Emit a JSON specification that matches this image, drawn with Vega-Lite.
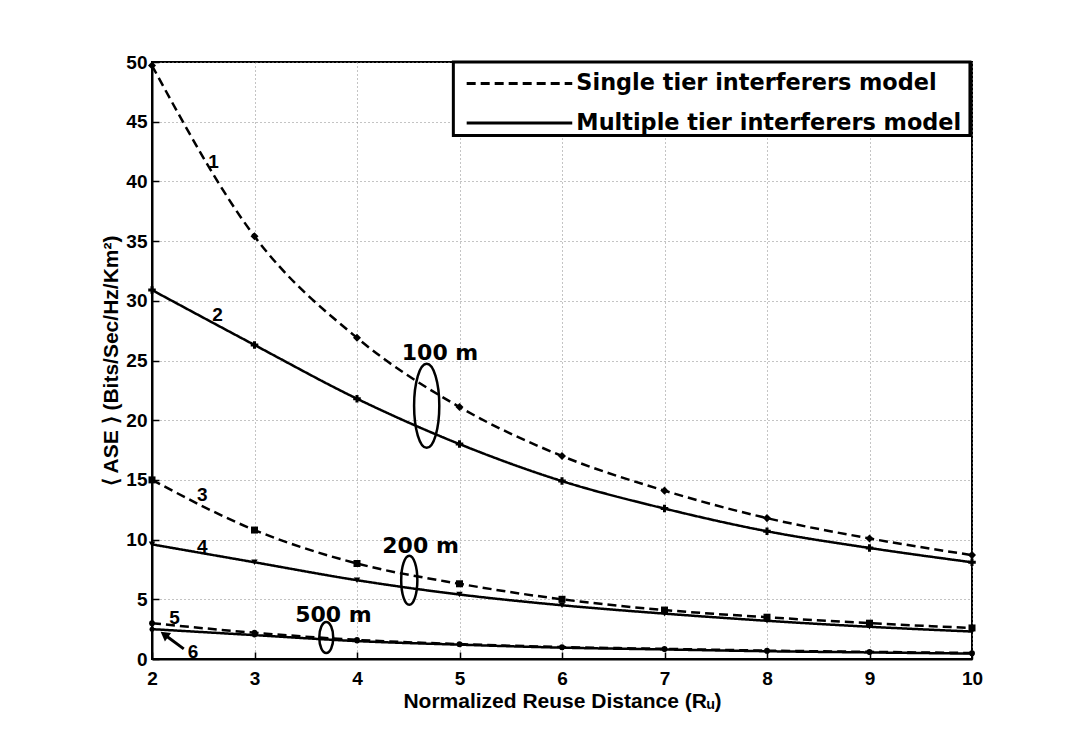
{
  "$schema": "https://vega.github.io/schema/vega-lite/v6.json",
  "autosize": "none",
  "width": 820,
  "height": 597,
  "padding": {"left": 152, "top": 62, "right": 101, "bottom": 88},
  "background": "white",
  "config": {
    "font": "Liberation Sans",
    "view": {"stroke": "black", "strokeWidth": 2},
    "axis": {
      "labelFont": "Liberation Sans", "labelFontWeight": "bold", "labelFontSize": 19, "labelColor": "black", "labelFlush": false,
      "titleFont": "Liberation Sans", "titleFontWeight": "bold", "titleFontSize": 21, "titleColor": "black",
      "domainColor": "black", "domainWidth": 2, "tickColor": "black", "tickWidth": 1.5, "tickSize": -7,
      "gridColor": "#888", "gridDash": [1, 3], "gridWidth": 1, "gridOpacity": 1
    }
  },
  "datasets": {
    "curves": [
      {"series": "1", "model": "Single tier interferers model", "x": 2, "y": 49.7},
      {"series": "1", "model": "Single tier interferers model", "x": 3, "y": 35.4},
      {"series": "1", "model": "Single tier interferers model", "x": 4, "y": 26.9},
      {"series": "1", "model": "Single tier interferers model", "x": 5, "y": 21.1},
      {"series": "1", "model": "Single tier interferers model", "x": 6, "y": 17.0},
      {"series": "1", "model": "Single tier interferers model", "x": 7, "y": 14.1},
      {"series": "1", "model": "Single tier interferers model", "x": 8, "y": 11.8},
      {"series": "1", "model": "Single tier interferers model", "x": 9, "y": 10.1},
      {"series": "1", "model": "Single tier interferers model", "x": 10, "y": 8.7},
      {"series": "2", "model": "Multiple tier interferers model", "x": 2, "y": 30.9},
      {"series": "2", "model": "Multiple tier interferers model", "x": 3, "y": 26.3},
      {"series": "2", "model": "Multiple tier interferers model", "x": 4, "y": 21.8},
      {"series": "2", "model": "Multiple tier interferers model", "x": 5, "y": 18.0},
      {"series": "2", "model": "Multiple tier interferers model", "x": 6, "y": 14.9},
      {"series": "2", "model": "Multiple tier interferers model", "x": 7, "y": 12.6},
      {"series": "2", "model": "Multiple tier interferers model", "x": 8, "y": 10.7},
      {"series": "2", "model": "Multiple tier interferers model", "x": 9, "y": 9.3},
      {"series": "2", "model": "Multiple tier interferers model", "x": 10, "y": 8.1},
      {"series": "3", "model": "Single tier interferers model", "x": 2, "y": 15.0},
      {"series": "3", "model": "Single tier interferers model", "x": 3, "y": 10.8},
      {"series": "3", "model": "Single tier interferers model", "x": 4, "y": 8.0},
      {"series": "3", "model": "Single tier interferers model", "x": 5, "y": 6.3},
      {"series": "3", "model": "Single tier interferers model", "x": 6, "y": 5.0},
      {"series": "3", "model": "Single tier interferers model", "x": 7, "y": 4.1},
      {"series": "3", "model": "Single tier interferers model", "x": 8, "y": 3.5},
      {"series": "3", "model": "Single tier interferers model", "x": 9, "y": 3.0},
      {"series": "3", "model": "Single tier interferers model", "x": 10, "y": 2.6},
      {"series": "4", "model": "Multiple tier interferers model", "x": 2, "y": 9.6},
      {"series": "4", "model": "Multiple tier interferers model", "x": 3, "y": 8.1},
      {"series": "4", "model": "Multiple tier interferers model", "x": 4, "y": 6.6},
      {"series": "4", "model": "Multiple tier interferers model", "x": 5, "y": 5.4},
      {"series": "4", "model": "Multiple tier interferers model", "x": 6, "y": 4.5},
      {"series": "4", "model": "Multiple tier interferers model", "x": 7, "y": 3.8},
      {"series": "4", "model": "Multiple tier interferers model", "x": 8, "y": 3.2},
      {"series": "4", "model": "Multiple tier interferers model", "x": 9, "y": 2.7},
      {"series": "4", "model": "Multiple tier interferers model", "x": 10, "y": 2.3},
      {"series": "5", "model": "Single tier interferers model", "x": 2, "y": 3.0},
      {"series": "5", "model": "Single tier interferers model", "x": 3, "y": 2.2},
      {"series": "5", "model": "Single tier interferers model", "x": 4, "y": 1.6},
      {"series": "5", "model": "Single tier interferers model", "x": 5, "y": 1.25},
      {"series": "5", "model": "Single tier interferers model", "x": 6, "y": 1.0},
      {"series": "5", "model": "Single tier interferers model", "x": 7, "y": 0.85},
      {"series": "5", "model": "Single tier interferers model", "x": 8, "y": 0.7},
      {"series": "5", "model": "Single tier interferers model", "x": 9, "y": 0.6},
      {"series": "5", "model": "Single tier interferers model", "x": 10, "y": 0.5},
      {"series": "6", "model": "Multiple tier interferers model", "x": 2, "y": 2.5},
      {"series": "6", "model": "Multiple tier interferers model", "x": 3, "y": 2.0},
      {"series": "6", "model": "Multiple tier interferers model", "x": 4, "y": 1.5},
      {"series": "6", "model": "Multiple tier interferers model", "x": 5, "y": 1.2},
      {"series": "6", "model": "Multiple tier interferers model", "x": 6, "y": 0.95},
      {"series": "6", "model": "Multiple tier interferers model", "x": 7, "y": 0.8},
      {"series": "6", "model": "Multiple tier interferers model", "x": 8, "y": 0.65},
      {"series": "6", "model": "Multiple tier interferers model", "x": 9, "y": 0.55},
      {"series": "6", "model": "Multiple tier interferers model", "x": 10, "y": 0.45}
    ],
    "nums": [
      {"text": "1", "x": 2.6, "y": 41.6},
      {"text": "2", "x": 2.64, "y": 28.8},
      {"text": "3", "x": 2.49, "y": 13.7},
      {"text": "4", "x": 2.49, "y": 9.4},
      {"text": "5", "x": 2.22, "y": 3.4},
      {"text": "6", "x": 2.4, "y": 0.6}
    ],
    "rings": [
      {"ring": "100 m", "cx": 4.68, "cy": 21.2, "lx": 4.81, "ly": 25.6},
      {"ring": "200 m", "cx": 4.51, "cy": 6.6, "lx": 4.62, "ly": 9.5},
      {"ring": "500 m", "cx": 3.70, "cy": 1.8, "lx": 3.77, "ly": 3.7}
    ],
    "arrow": [
      {"x": 2.31, "y": 0.85, "x2": 2.12, "y2": 2.05}
    ],
    "legendbox": [
      {"x": 4.94, "x2": 9.98, "y": 50, "y2": 43.85}
    ],
    "legend": [
      {"model": "Single tier interferers model", "x": 5.07, "x2": 6.1, "tx": 6.14, "y": 48.2},
      {"model": "Multiple tier interferers model", "x": 5.07, "x2": 6.1, "tx": 6.14, "y": 44.9}
    ]
  },
  "layer": [
    {
      "data": {"name": "curves"},
      "mark": {"type": "line", "color": "black", "strokeWidth": 2.5, "interpolate": "monotone"},
      "encoding": {
        "x": {"field": "x", "type": "quantitative", "scale": {"domain": [2, 10], "nice": false},
              "axis": {"values": [2, 3, 4, 5, 6, 7, 8, 9, 10], "format": "d", "title": "Normalized Reuse Distance (Rᵤ)", "labelPadding": 17, "titlePadding": 2}},
        "y": {"field": "y", "type": "quantitative", "scale": {"domain": [0, 50], "nice": false},
              "axis": {"values": [0, 5, 10, 15, 20, 25, 30, 35, 40, 45, 50], "format": "d", "title": "⟨ ASE ⟩ (Bits/Sec/Hz/Km²)", "labelPadding": 12, "titlePadding": 4}},
        "detail": {"field": "series"},
        "strokeDash": {"field": "model", "type": "nominal",
          "scale": {"domain": ["Single tier interferers model", "Multiple tier interferers model"], "range": [[9, 5], [1, 0]]},
          "legend": null}
      }
    },
    {
      "data": {"name": "curves"},
      "mark": {"type": "point", "filled": true, "color": "black", "opacity": 1},
      "encoding": {
        "x": {"field": "x", "type": "quantitative"},
        "y": {"field": "y", "type": "quantitative"},
        "shape": {"field": "series", "type": "nominal", "legend": null,
          "scale": {"domain": ["1", "2", "3", "4", "5", "6"], "range": ["diamond", "cross", "square", "triangle-down", "circle", "circle"]}},
        "size": {"field": "series", "type": "nominal", "legend": null,
          "scale": {"domain": ["1", "2", "3", "4", "5", "6"], "range": [65, 25, 60, 55, 60, 60]}}
      }
    },
    {
      "data": {"name": "nums"},
      "mark": {"type": "text", "font": "Liberation Sans", "fontWeight": "bold", "fontSize": 19, "color": "black"},
      "encoding": {
        "x": {"field": "x", "type": "quantitative"},
        "y": {"field": "y", "type": "quantitative"},
        "text": {"field": "text"}
      }
    },
    {
      "data": {"name": "rings"},
      "mark": {"type": "text", "font": "DejaVu Sans", "fontWeight": "bold", "fontSize": 22, "color": "black"},
      "encoding": {
        "x": {"field": "lx", "type": "quantitative"},
        "y": {"field": "ly", "type": "quantitative"},
        "text": {"field": "ring"}
      }
    },
    {
      "data": {"name": "rings"},
      "transform": [{"filter": "datum.ring === '100 m'"}],
      "mark": {"type": "point", "filled": false, "color": "black", "strokeWidth": 2.5, "opacity": 1, "size": 7056,
               "shape": "M0,-1A0.3,1,0,1,1,0,1A0.3,1,0,1,1,0,-1Z"},
      "encoding": {"x": {"field": "cx", "type": "quantitative"}, "y": {"field": "cy", "type": "quantitative"}}
    },
    {
      "data": {"name": "rings"},
      "transform": [{"filter": "datum.ring === '200 m'"}],
      "mark": {"type": "point", "filled": false, "color": "black", "strokeWidth": 2.5, "opacity": 1, "size": 2401,
               "shape": "M0,-1A0.33,1,0,1,1,0,1A0.33,1,0,1,1,0,-1Z"},
      "encoding": {"x": {"field": "cx", "type": "quantitative"}, "y": {"field": "cy", "type": "quantitative"}}
    },
    {
      "data": {"name": "rings"},
      "transform": [{"filter": "datum.ring === '500 m'"}],
      "mark": {"type": "point", "filled": false, "color": "black", "strokeWidth": 2.5, "opacity": 1, "size": 961,
               "shape": "M0,-1A0.45,1,0,1,1,0,1A0.45,1,0,1,1,0,-1Z"},
      "encoding": {"x": {"field": "cx", "type": "quantitative"}, "y": {"field": "cy", "type": "quantitative"}}
    },
    {
      "data": {"name": "arrow"},
      "mark": {"type": "rule", "color": "black", "strokeWidth": 3},
      "encoding": {
        "x": {"field": "x", "type": "quantitative"}, "y": {"field": "y", "type": "quantitative"},
        "x2": {"field": "x2"}, "y2": {"field": "y2"}
      }
    },
    {
      "data": {"name": "arrow"},
      "mark": {"type": "point", "shape": "triangle-up", "filled": true, "color": "black", "opacity": 1, "size": 110, "angle": -54},
      "encoding": {"x": {"field": "x2", "type": "quantitative"}, "y": {"field": "y2", "type": "quantitative"}}
    },
    {
      "data": {"name": "legendbox"},
      "mark": {"type": "rect", "fill": "white", "stroke": "black", "strokeWidth": 3},
      "encoding": {
        "x": {"field": "x", "type": "quantitative"}, "x2": {"field": "x2"},
        "y": {"field": "y", "type": "quantitative"}, "y2": {"field": "y2"}
      }
    },
    {
      "data": {"name": "legend"},
      "mark": {"type": "rule", "color": "black", "strokeWidth": 3},
      "encoding": {
        "x": {"field": "x", "type": "quantitative"}, "x2": {"field": "x2"},
        "y": {"field": "y", "type": "quantitative"},
        "strokeDash": {"field": "model", "type": "nominal", "legend": null}
      }
    },
    {
      "data": {"name": "legend"},
      "mark": {"type": "text", "align": "left", "baseline": "middle", "font": "DejaVu Sans", "fontWeight": "bold", "fontSize": 22.4, "color": "black"},
      "encoding": {
        "x": {"field": "tx", "type": "quantitative"},
        "y": {"field": "y", "type": "quantitative"},
        "text": {"field": "model"}
      }
    }
  ]
}
